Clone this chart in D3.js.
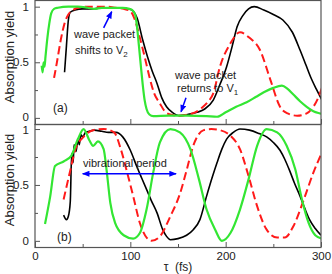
<!DOCTYPE html>
<html>
<head>
<meta charset="utf-8">
<script src="https://cdn.jsdelivr.net/npm/d3@7"></script>
<style>
  body { margin: 0; background: #fff; }
  svg { display: block; font-family: "Liberation Sans", Arial, sans-serif; }
</style>
</head>
<body>
<svg id="chart" width="332" height="274"></svg>
<script>
// tau (fs), absorption yield
const aBlack = [[31,0.41],[33,0.65],[35,0.88],[37,0.95],[42,0.97],[50,0.98],[60,0.98],[70,0.99],[80,0.99],[90,0.99],[98,0.98],[103,0.96],[107,0.9],[113,0.7],[118,0.55],[123,0.42],[128,0.31],[133,0.18],[138,0.1],[144,0.05],[152,0.02],[160,0.03],[170,0.05],[178,0.08],[187,0.16],[194,0.3],[201,0.46],[207,0.65],[212,0.82],[218,0.92],[224,0.98],[230,1.0],[240,0.97],[250,0.93],[260,0.88],[270,0.77],[278,0.61],[284,0.48],[289,0.37],[295,0.26],[301,0.16]];
const aRed = [[20,0.36],[23,0.5],[27,0.7],[31,0.85],[35,0.93],[40,0.97],[45,0.99],[55,1.0],[65,1.0],[75,1.0],[85,0.99],[93,0.98],[100,0.96],[104,0.9],[110,0.72],[115,0.55],[120,0.37],[125,0.22],[131,0.13],[136,0.06],[142,0.03],[150,0.02],[160,0.03],[168,0.05],[175,0.09],[181,0.14],[187,0.22],[194,0.46],[205,0.67],[215,0.77],[225,0.72],[236,0.61],[247,0.34],[257,0.1],[265,0.04],[275,0.02],[285,0.04],[292,0.1],[297,0.18],[301,0.27]];
const aGreen = [[7,0.47],[8,0.41],[9,0.5],[10,0.46],[11,0.55],[13,0.72],[15,0.85],[17,0.94],[20,0.98],[24,0.99],[35,1.0],[45,1.0],[55,0.99],[62,0.98],[70,0.99],[80,0.99],[92,0.99],[99,0.98],[102,0.97],[105,0.93],[107,0.82],[109,0.65],[111,0.47],[113,0.3],[115,0.16],[117,0.08],[120,0.03],[124,0.015],[140,0.02],[160,0.02],[180,0.015],[191,0.01],[200,0.05],[211,0.1],[222,0.14],[232,0.19],[240,0.23],[250,0.27],[259,0.29],[265,0.26],[271,0.21],[278,0.15],[285,0.1],[292,0.06],[299,0.04],[301,0.035]];

const bBlack = [[30,0.23],[33,0.19],[35,0.22],[37,0.35],[38.5,0.78],[40,0.7],[41,0.86],[43,0.8],[45,0.9],[46.5,0.86],[48,0.95],[50,0.93],[53,0.97],[57,0.98],[62,0.99],[70,0.98],[77,0.97],[85,0.97],[92,0.93],[100,0.81],[107,0.66],[112,0.56],[117,0.46],[122,0.36],[128,0.25],[134,0.1],[138,0.04],[142,0.01],[150,0.02],[159,0.05],[166,0.1],[173,0.19],[180,0.4],[186,0.57],[191,0.7],[196,0.82],[201,0.91],[208,0.97],[215,1.0],[225,0.99],[235,0.96],[243,0.93],[250,0.88],[257,0.81],[262,0.73],[267,0.63],[272,0.52],[278,0.4],[283,0.29],[288,0.19],[294,0.11],[300,0.05]];
const bRed = [[30,0.37],[37,0.63],[42,0.81],[51,0.93],[61,0.99],[72,1.0],[83,0.97],[90,0.82],[97,0.6],[103,0.4],[110,0.16],[117,0.03],[122,0.0],[131,0.04],[142,0.22],[152,0.42],[159,0.63],[166,0.85],[177,0.99],[185,1.0],[194,0.99],[205,0.94],[215,0.82],[224,0.58],[233,0.31],[243,0.1],[254,0.03],[262,0.03],[271,0.13],[282,0.37],[292,0.61],[301,0.79]];
const bGreen = [[10.5,0.15],[16,0.4],[21,0.67],[30,0.71],[38,0.76],[45,0.91],[51,1.0],[57,0.9],[61,0.85],[66,0.89],[72,0.82],[75,0.64],[79,0.34],[84,0.16],[93,0.05],[103,0.02],[110,0.07],[117,0.28],[124,0.61],[131,0.88],[142,1.0],[152,0.97],[163,0.82],[172,0.55],[180,0.28],[189,0.1],[196,0.0],[205,0.07],[215,0.28],[224,0.55],[233,0.85],[243,1.0],[254,0.97],[264,0.85],[273,0.64],[280,0.37],[287,0.16],[294,0.05],[301,0.02]];

const xTicks = [0, 100, 200, 300];
const xMinor = [50, 150, 250];
const yTicks = [0, 0.5, 1];
const yMinor = [0.25, 0.75];

const svg = d3.select("#chart");
const x = d3.scaleLinear().domain([0, 300]).range([35, 321]);

const panels = [
  { id: "a", label: "(a)", top: 0, bottom: 124, titleY: 57,
    y: d3.scaleLinear().domain([-0.055, 1.06]).range([124, 0]),
    lines: [aBlack, aRed, aGreen] },
  { id: "b", label: "(b)", top: 124, bottom: 247, titleY: 180,
    y: d3.scaleLinear().domain([-0.055, 1.045]).range([247, 124]),
    lines: [bBlack, bRed, bGreen] }
];

const styles = [
  { stroke: "#000", width: 1.6, dash: null },
  { stroke: "#ff1a1a", width: 2, dash: "8,4" },
  { stroke: "#33e633", width: 2.2, dash: null }
];

const defs = svg.append("defs");
defs.append("marker")
  .attr("id", "arr")
  .attr("viewBox", "0 0 10 8")
  .attr("refX", 9).attr("refY", 4)
  .attr("markerWidth", 8).attr("markerHeight", 6)
  .attr("markerUnits", "userSpaceOnUse")
  .attr("orient", "auto-start-reverse")
  .append("path")
  .attr("d", "M0,0 L10,4 L0,8 Z")
  .attr("fill", "#0000ff");

panels.forEach(p => {
  defs.append("clipPath").attr("id", "clip-" + p.id)
    .append("rect")
    .attr("x", x(0)).attr("y", p.top)
    .attr("width", x(300) - x(0)).attr("height", p.bottom - p.top);

  const line = d3.line()
    .x(d => x(d[0]))
    .y(d => p.y(d[1]))
    .curve(d3.curveMonotoneX);

  const g = svg.append("g").attr("clip-path", `url(#clip-${p.id})`);
  p.lines.forEach((data, i) => {
    g.append("path")
      .datum(data)
      .attr("fill", "none")
      .attr("stroke", styles[i].stroke)
      .attr("stroke-width", styles[i].width)
      .attr("stroke-dasharray", styles[i].dash)
      .attr("stroke-linejoin", "round")
      .attr("d", line);
  });

  // axes, ticks pointing inward
  const yAx = svg.append("g")
    .attr("class", "yaxis-" + p.id)
    .attr("transform", `translate(${x(0)},0)`)
    .call(d3.axisLeft(p.y).tickValues(yTicks).tickSize(-5).tickPadding(6).tickFormat(d3.format("")));
  svg.append("g")
    .attr("transform", `translate(${x(0)},0)`)
    .call(d3.axisLeft(p.y).tickValues(yMinor).tickSize(-3).tickFormat(""));

  svg.append("g")
    .attr("transform", `translate(0,${p.bottom})`)
    .call(d3.axisBottom(x).tickValues(xTicks).tickSize(-5).tickPadding(5)
      .tickFormat(p.id === "b" ? d3.format("") : ""));
  svg.append("g")
    .attr("transform", `translate(0,${p.bottom})`)
    .call(d3.axisBottom(x).tickValues(xMinor).tickSize(-3).tickFormat(""));

  svg.selectAll(".domain").remove();

  svg.append("rect")
    .attr("x", x(0)).attr("y", p.top + 0.5)
    .attr("width", x(300) - x(0)).attr("height", p.bottom - p.top)
    .attr("fill", "none").attr("stroke", "#555").attr("stroke-width", 1.2);

  svg.append("text")
    .attr("transform", `translate(14,${p.titleY}) rotate(-90)`)
    .attr("text-anchor", "middle")
    .attr("font-size", 13)
    .attr("fill", "#222")
    .text("Absorption yield");
});

svg.selectAll(".tick line").attr("stroke", "#555").attr("stroke-width", 1);
svg.selectAll(".tick text").attr("font-size", 11.5).attr("fill", "#222")
  .attr("font-family", "Liberation Sans, Arial, sans-serif");

// keep the "0" of (a) and the "1" of (b) from touching at the panel seam
svg.select(".yaxis-a").selectAll(".tick text").filter(d => d === 0).attr("dy", "0.2em");
svg.select(".yaxis-b").selectAll(".tick text").filter(d => d === 1).attr("dy", "0.42em");

const pa = panels[0], pb = panels[1];

// panel labels
svg.append("text").attr("x", 53).attr("y", 112).attr("font-size", 12).attr("fill", "#222").text("(a)");
svg.append("text").attr("x", 57).attr("y", 241).attr("font-size", 12).attr("fill", "#222").text("(b)");

// annotations
const ann = svg.append("g").attr("font-size", 11).attr("fill", "#222");
ann.append("text").attr("x", 74).attr("y", 38).text("wave packet");
const t1 = ann.append("text").attr("x", 75).attr("y", 54).text("shifts to V");
t1.append("tspan").attr("font-size", 8).attr("dy", 3).text("2");

ann.append("text").attr("x", 175).attr("y", 79).text("wave packet");
const t2 = ann.append("text").attr("x", 177).attr("y", 92).text("returns to V");
t2.append("tspan").attr("font-size", 8).attr("dy", 3).text("1");

ann.append("text").attr("x", 83).attr("y", 167).text("vibrational period");

function arrow(x1, y1, x2, y2, both) {
  svg.append("line")
    .attr("x1", x1).attr("y1", y1).attr("x2", x2).attr("y2", y2)
    .attr("stroke", "#0000ff").attr("stroke-width", 1.5)
    .attr("marker-end", "url(#arr)")
    .attr("marker-start", both ? "url(#arr)" : null);
}
arrow(x(72), pa.y(0.81), x(80.5), pa.y(0.955), false);
arrow(x(158.4), pa.y(0.18), x(153.2), pa.y(0.055), false);
arrow(x(50), pb.y(0.6), x(148), pb.y(0.6), true);

// x axis title
svg.append("text")
  .attr("x", 178).attr("y", 271)
  .attr("text-anchor", "middle")
  .attr("font-size", 12)
  .attr("fill", "#222")
  .text("τ\u00a0\u00a0(fs)");
</script>
</body>
</html>
